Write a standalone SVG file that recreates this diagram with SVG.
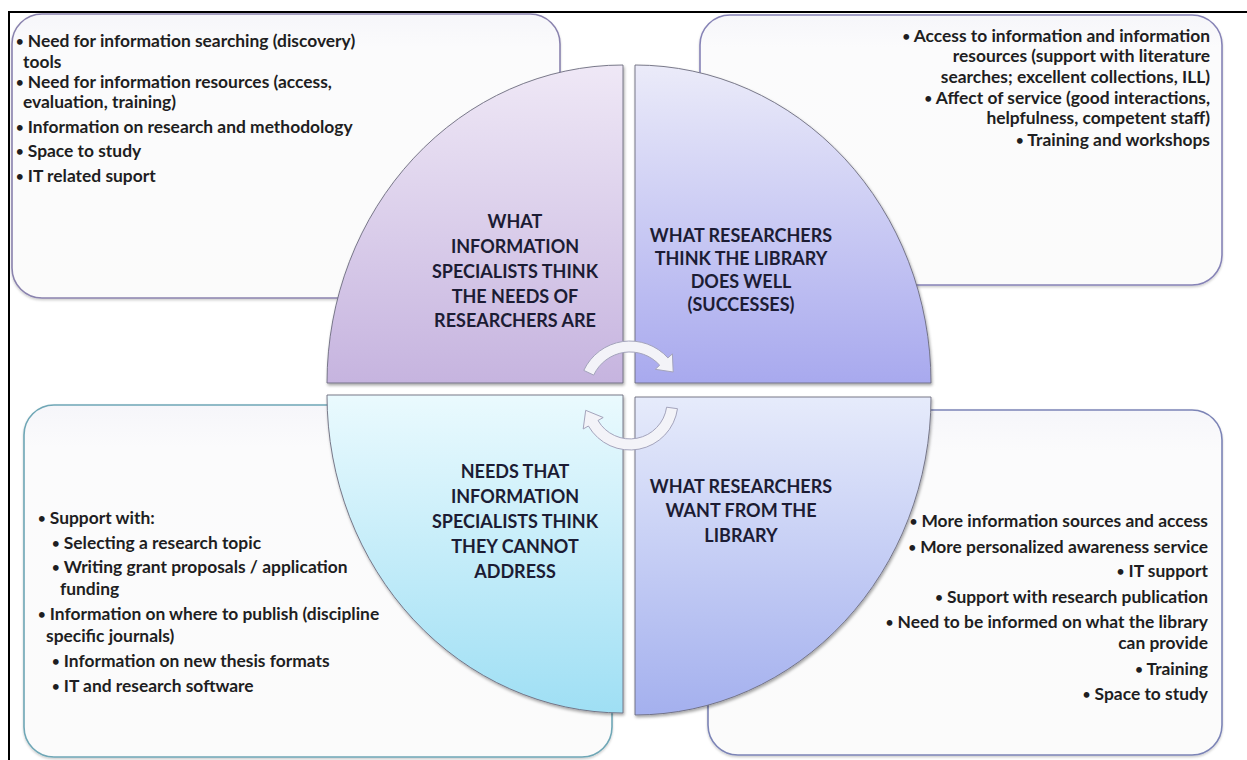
<svg xmlns="http://www.w3.org/2000/svg" width="1247" height="760" viewBox="0 0 1247 760">
  <defs>
    <linearGradient id="gTL" x1="0" y1="0" x2="0" y2="1">
      <stop offset="0" stop-color="#efe8f6"/>
      <stop offset="1" stop-color="#c6b4df"/>
    </linearGradient>
    <linearGradient id="gTR" x1="0" y1="0" x2="0" y2="1">
      <stop offset="0" stop-color="#ebebf9"/>
      <stop offset="1" stop-color="#a8a9ee"/>
    </linearGradient>
    <linearGradient id="gBL" x1="0" y1="0" x2="0" y2="1">
      <stop offset="0" stop-color="#eafafe"/>
      <stop offset="1" stop-color="#9fdff4"/>
    </linearGradient>
    <linearGradient id="gBR" x1="0" y1="0" x2="0" y2="1">
      <stop offset="0" stop-color="#e6ebfb"/>
      <stop offset="1" stop-color="#a4b0ee"/>
    </linearGradient>
    <linearGradient id="gBox" x1="0" y1="0" x2="0" y2="1">
      <stop offset="0" stop-color="#f6f6fa"/>
      <stop offset="0.12" stop-color="#fbfbfc"/>
      <stop offset="1" stop-color="#fbfbfb"/>
    </linearGradient>
    <filter id="shade" x="-5%" y="-5%" width="115%" height="115%">
      <feDropShadow dx="1" dy="2" stdDeviation="1.5" flood-color="#000" flood-opacity="0.35"/>
    </filter>
    <filter id="softShade" x="-5%" y="-5%" width="115%" height="115%">
      <feDropShadow dx="0" dy="1.5" stdDeviation="1.2" flood-color="#000" flood-opacity="0.2"/>
    </filter>
  </defs>
  <style>
    .box { fill: url(#gBox); stroke-width: 1.6; filter: url(#softShade); }
    .quad { stroke: #6c6c7e; stroke-width: 0.9; filter: url(#shade); }
    .body { font-family: Lato, "Liberation Sans", sans-serif; font-weight: bold; font-size: 17.4px; fill: #1e1e22; }
    .end { text-anchor: end; }
    .b { font-size: 13px; baseline-shift: 1.5px; }
    .title { font-family: Lato, "Liberation Sans", sans-serif; font-weight: bold; font-size: 18px; fill: #1c1c34; text-anchor: middle; }
    .arrow { fill: #f3f3f8; stroke: #a4a4bc; stroke-width: 1; }
  </style>

  <rect width="1247" height="760" fill="#ffffff"/>
  <!-- outer frame -->
  <rect x="9" y="12" width="1245" height="760" fill="none" stroke="#000" stroke-width="2"/>

  <!-- detail boxes -->
  <g id="box-top-left">
    <rect class="box" x="12" y="14" width="548" height="284" rx="30" stroke="#8a83ae"/>
    <text class="body" x="16" y="47"><tspan class="b">•</tspan> Need for information searching (discovery)</text>
    <text class="body" x="23" y="68">tools</text>
    <text class="body" x="16" y="88"><tspan class="b">•</tspan> Need for information resources (access,</text>
    <text class="body" x="23" y="108">evaluation, training)</text>
    <text class="body" x="16" y="133"><tspan class="b">•</tspan> Information on research and methodology</text>
    <text class="body" x="16" y="157"><tspan class="b">•</tspan> Space to study</text>
    <text class="body" x="16" y="182"><tspan class="b">•</tspan> IT related suport</text>
  </g>

  <g id="box-top-right">
    <rect class="box" x="700" y="15" width="522" height="270" rx="30" stroke="#8683b6"/>
    <text class="body end" x="1210" y="42"><tspan class="b">•</tspan> Access to  information and information</text>
    <text class="body end" x="1210" y="62">resources (support with literature</text>
    <text class="body end" x="1210" y="83">searches; excellent collections, ILL)</text>
    <text class="body end" x="1210" y="104"><tspan class="b">•</tspan> Affect of service (good interactions,</text>
    <text class="body end" x="1210" y="124">helpfulness, competent staff)</text>
    <text class="body end" x="1210" y="146"><tspan class="b">•</tspan> Training and workshops</text>
  </g>

  <g id="box-bottom-left">
    <rect class="box" x="24" y="405" width="588" height="352" rx="30" stroke="#6fa7b6"/>
    <text class="body" x="38" y="524"><tspan class="b">•</tspan> Support with:</text>
    <text class="body" x="52" y="549"><tspan class="b">•</tspan> Selecting a research topic</text>
    <text class="body" x="52" y="573"><tspan class="b">•</tspan> Writing grant proposals / application</text>
    <text class="body" x="60" y="595">funding</text>
    <text class="body" x="38" y="620"><tspan class="b">•</tspan> Information on where to publish (discipline</text>
    <text class="body" x="46" y="642">specific journals)</text>
    <text class="body" x="52" y="667"><tspan class="b">•</tspan> Information on new thesis formats</text>
    <text class="body" x="52" y="692"><tspan class="b">•</tspan> IT and research software</text>
  </g>

  <g id="box-bottom-right">
    <rect class="box" x="708" y="410" width="514" height="345" rx="30" stroke="#7c84b6"/>
    <text class="body end" x="1208" y="527"><tspan class="b">•</tspan> More information sources and  access</text>
    <text class="body end" x="1208" y="553"><tspan class="b">•</tspan> More personalized awareness service</text>
    <text class="body end" x="1208" y="577"><tspan class="b">•</tspan> IT support</text>
    <text class="body end" x="1208" y="603"><tspan class="b">•</tspan> Support with research publication</text>
    <text class="body end" x="1208" y="628"><tspan class="b">•</tspan> Need to be informed on what the library</text>
    <text class="body end" x="1208" y="649">can provide</text>
    <text class="body end" x="1208" y="675"><tspan class="b">•</tspan> Training</text>
    <text class="body end" x="1208" y="700"><tspan class="b">•</tspan> Space to study</text>
  </g>

  <!-- central quarter-ellipse segments -->
  <g id="quad-top-left">
    <path class="quad" fill="url(#gTL)" d="M623,383 L327,383 A296,318 0 0 1 623,65 Z"/>
    <text class="title" x="515" y="228">WHAT</text>
    <text class="title" x="515" y="253">INFORMATION</text>
    <text class="title" x="515" y="278">SPECIALISTS THINK</text>
    <text class="title" x="515" y="303">THE NEEDS OF</text>
    <text class="title" x="515" y="327">RESEARCHERS ARE</text>
  </g>

  <g id="quad-top-right">
    <path class="quad" fill="url(#gTR)" d="M635,383 L635,65 A296,318 0 0 1 931,383 Z"/>
    <text class="title" x="741" y="242">WHAT RESEARCHERS</text>
    <text class="title" x="741" y="265">THINK THE LIBRARY</text>
    <text class="title" x="741" y="288">DOES WELL</text>
    <text class="title" x="741" y="311">(SUCCESSES)</text>
  </g>

  <g id="quad-bottom-left">
    <path class="quad" fill="url(#gBL)" d="M623,395 L623,713 A296,318 0 0 1 327,395 Z"/>
    <text class="title" x="515" y="478">NEEDS THAT</text>
    <text class="title" x="515" y="503">INFORMATION</text>
    <text class="title" x="515" y="528">SPECIALISTS THINK</text>
    <text class="title" x="515" y="553">THEY CANNOT</text>
    <text class="title" x="515" y="578">ADDRESS</text>
  </g>

  <g id="quad-bottom-right">
    <path class="quad" fill="url(#gBR)" d="M635,397 L931,397 A296,318 0 0 1 635,715 Z"/>
    <text class="title" x="741" y="493">WHAT RESEARCHERS</text>
    <text class="title" x="741" y="517">WANT FROM THE</text>
    <text class="title" x="741" y="542">LIBRARY</text>
  </g>

  <!-- cycle arrows -->
  <g id="connectors">
    <path class="arrow" d="M583.8,370.4 A51,51 0 0 1 667.9,357.9 L672.4,353.9 L673.2,372 L655.3,369.3 L659.7,365.2 A40,40 0 0 0 593.7,375.1 Z"/>
    <path class="arrow" d="M677.5,408.7 A48,48 0 0 1 588.4,426 L583.2,429 L585.7,410.3 L603.2,417.5 L598,420.5 A37,37 0 0 0 666.6,407.2 Z"/>
  </g>
</svg>
